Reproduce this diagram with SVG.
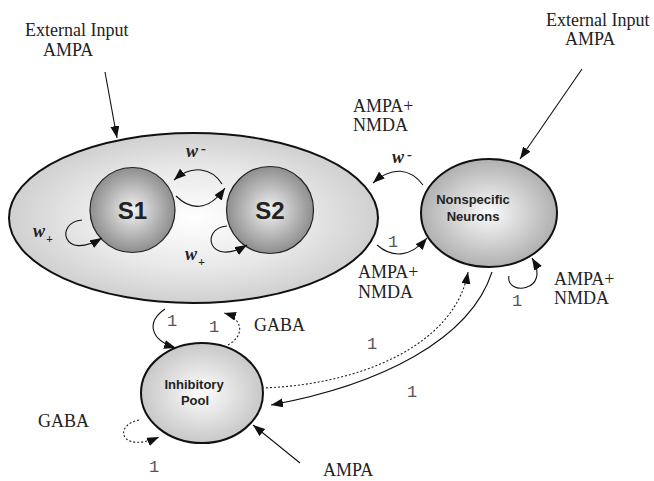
<svg xmlns="http://www.w3.org/2000/svg" width="654" height="481" viewBox="0 0 654 481">
<defs>
<radialGradient id="gBig" cx="0.5" cy="0.5" r="0.5">
<stop offset="0" stop-color="#ffffff"/>
<stop offset="0.6" stop-color="#e8e8e8"/>
<stop offset="1" stop-color="#d0d0d0"/>
</radialGradient>
<radialGradient id="gS" cx="0.5" cy="0.5" r="0.5">
<stop offset="0" stop-color="#f2f2f2"/>
<stop offset="1" stop-color="#8e8e8e"/>
</radialGradient>
<radialGradient id="gNS" cx="0.5" cy="0.5" r="0.5">
<stop offset="0" stop-color="#fbfbfb"/>
<stop offset="1" stop-color="#b0b0b0"/>
</radialGradient>
<radialGradient id="gIP" cx="0.5" cy="0.5" r="0.5">
<stop offset="0" stop-color="#fdfdfd"/>
<stop offset="1" stop-color="#c8c8c8"/>
</radialGradient>
<marker id="ah" markerUnits="userSpaceOnUse" markerWidth="13" markerHeight="10" refX="12" refY="4.5" orient="auto">
<path d="M0,0 L12,4.5 L0,9 z" fill="#111"/>
</marker>
</defs>
<style>
.serif{font-family:"Liberation Serif","Times New Roman",serif;font-size:18px;fill:#222}
.node{font-family:"Liberation Sans",Arial,sans-serif;font-weight:bold;fill:#222}
.w{font-family:"Liberation Serif",serif;font-style:italic;font-weight:bold;font-size:18px;fill:#222}
.one{font-family:"Liberation Mono","Courier New",monospace;font-size:17px;fill:#555}
.c{fill:none;stroke:#111;stroke-width:1.1;marker-end:url(#ah)}
.d{fill:none;stroke:#222;stroke-width:1.1;stroke-dasharray:2 2;marker-end:url(#ah)}
</style>

<g id="pop">
<ellipse cx="193.5" cy="218" rx="184.5" ry="85" fill="url(#gBig)" stroke="#111" stroke-width="2"/>
</g>
<g id="S1">
<circle cx="132.5" cy="210" r="42.5" fill="url(#gS)" stroke="#222" stroke-width="1.2"/>
<text class="node" x="132.5" y="219" text-anchor="middle" font-size="24">S1</text>
</g>
<g id="S2">
<circle cx="270" cy="210" r="43.5" fill="url(#gS)" stroke="#222" stroke-width="1.2"/>
<text class="node" x="270" y="219" text-anchor="middle" font-size="24">S2</text>
</g>
<g id="nonspecific">
<ellipse cx="489" cy="213" rx="68" ry="54" fill="url(#gNS)" stroke="#111" stroke-width="2"/>
<text class="node" x="473" y="204" text-anchor="middle" font-size="13">Nonspecific</text>
<text class="node" x="473" y="221" text-anchor="middle" font-size="13">Neurons</text>
</g>
<g id="inhibitory">
<ellipse cx="202" cy="393" rx="61" ry="50" fill="url(#gIP)" stroke="#111" stroke-width="2"/>
<text class="node" x="194" y="389" text-anchor="middle" font-size="13">Inhibitory</text>
<text class="node" x="195" y="405" text-anchor="middle" font-size="13">Pool</text>
</g>

<g id="connectors">
<path class="c" d="M105,72 L117,138"/>
<path class="c" d="M582,69 L520,159"/>
<path class="c" d="M300,463 L253,425"/>
<path class="c" d="M222,184 C212,168 192,164 174,180"/>
<path class="c" d="M176,196 C190,210 208,212 225,188"/>
<path class="c" d="M82,220 C55,222 62,262 102,238"/>
<path class="c" d="M227,226 C200,228 208,268 247,245"/>
<path class="c" d="M423,185 C410,168 392,166 373,183"/>
<path class="c" d="M377,245 C392,258 410,258 427,238"/>
<path class="c" d="M509,276 C505,296 552,292 532,258"/>
<path class="c" d="M165,309 C146,322 150,340 176,348"/>
<path class="d" d="M228,345 C246,335 242,318 224,313"/>
<path class="d" d="M139,420 C113,425 120,454 159,437"/>
<path class="d" d="M262,388 C360,385 455,345 468,272"/>
<path class="c" d="M492,272 C470,340 380,385 271,405"/>
</g>

<g id="labels">
<text class="serif" x="25" y="36">External Input</text>
<text class="serif" x="43" y="56">AMPA</text>
<text class="serif" x="546" y="26">External Input</text>
<text class="serif" x="565" y="45">AMPA</text>
<text class="serif" x="353" y="112">AMPA+</text>
<text class="serif" x="353" y="131">NMDA</text>
<text class="serif" x="358" y="278">AMPA+</text>
<text class="serif" x="358" y="298">NMDA</text>
<text class="serif" x="554" y="285">AMPA+</text>
<text class="serif" x="554" y="304">NMDA</text>
<text class="serif" x="254" y="331">GABA</text>
<text class="serif" x="38" y="427">GABA</text>
<text class="serif" x="323" y="476">AMPA</text>
<text class="w" x="186" y="157">w<tspan dx="3" dy="-4" font-size="15">-</tspan></text>
<text class="w" x="392" y="163">w<tspan dx="3" dy="-4" font-size="15">-</tspan></text>
<text class="w" x="33" y="237">w<tspan dx="1" dy="6" font-size="12">+</tspan></text>
<text class="w" x="185" y="260">w<tspan dx="1" dy="6" font-size="12">+</tspan></text>
<text class="one" x="388" y="247" font-size="11">1</text>
<text class="one" x="512" y="306">1</text>
<text class="one" x="167" y="326">1</text>
<text class="one" x="209" y="332">1</text>
<text class="one" x="367" y="349">1</text>
<text class="one" x="407" y="397">1</text>
<text class="one" x="149" y="472">1</text>
</g>
</svg>
